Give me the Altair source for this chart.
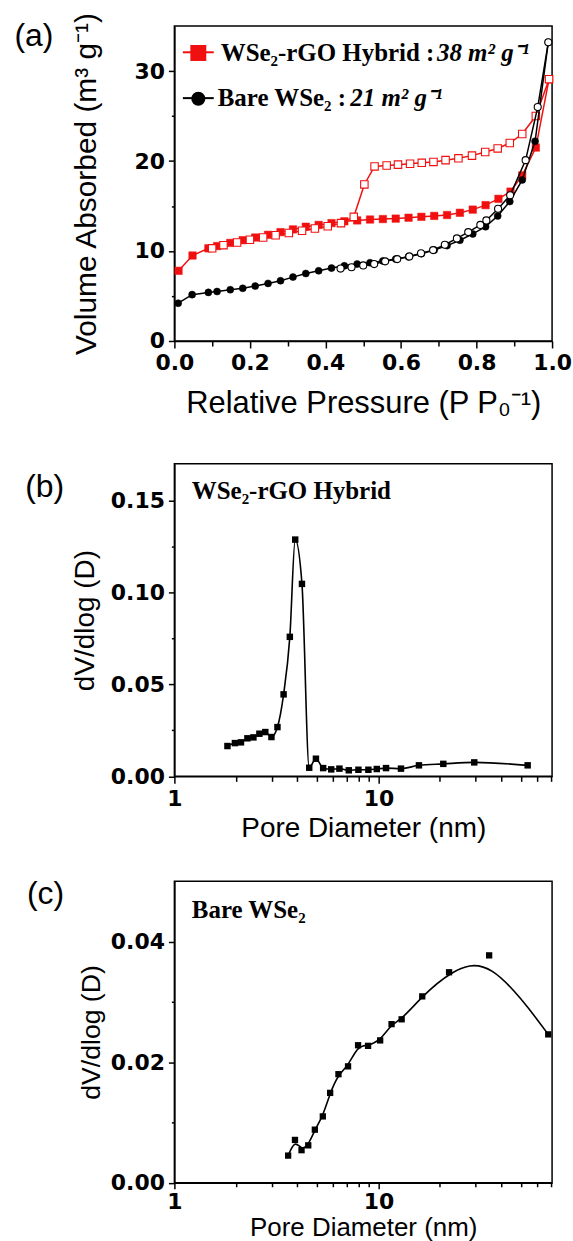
import json
import altair as alt
import pandas as pd

# ---------------- data ----------------
# (a) N2 adsorption / desorption isotherms
rgo_ads_p = [0.011, 0.048, 0.090, 0.113, 0.148, 0.181, 0.214, 0.248, 0.281, 0.314, 0.348, 0.382, 0.416, 0.450,
             0.484, 0.518, 0.552, 0.586, 0.620, 0.654, 0.688, 0.722, 0.756, 0.790, 0.824, 0.858, 0.890, 0.921,
             0.957, 0.992]
rgo_ads_v = [7.8, 9.5, 10.3, 10.55, 10.9, 11.2, 11.5, 11.8, 12.1, 12.4, 12.7, 12.9, 13.1, 13.3,
             13.4, 13.5, 13.55, 13.6, 13.7, 13.8, 13.9, 14.0, 14.25, 14.6, 15.1, 15.8, 16.6, 18.4,
             21.5, 29.1]
rgo_des_p = [0.992, 0.957, 0.921, 0.888, 0.856, 0.823, 0.788, 0.752, 0.718, 0.686, 0.655, 0.624, 0.592, 0.562,
             0.530, 0.503, 0.475, 0.441, 0.406, 0.372, 0.338, 0.303, 0.268, 0.235, 0.200, 0.166, 0.130, 0.100]
rgo_des_v = [29.1, 25.0, 23.0, 22.0, 21.4, 21.0, 20.6, 20.3, 20.1, 19.9, 19.8, 19.7, 19.6, 19.5,
             19.4, 17.4, 13.8, 13.1, 12.75, 12.5, 12.25, 12.0, 11.75, 11.5, 11.25, 10.95, 10.65, 10.3]
bare_ads_p = [0.010, 0.047, 0.090, 0.113, 0.148, 0.181, 0.214, 0.248, 0.281, 0.314, 0.348, 0.382, 0.416, 0.450,
              0.484, 0.518, 0.552, 0.586, 0.620, 0.654, 0.688, 0.722, 0.756, 0.790, 0.824, 0.856, 0.888, 0.921,
              0.955, 0.990]
bare_ads_v = [4.2, 5.15, 5.4, 5.5, 5.7, 5.85, 6.1, 6.4, 6.7, 7.1, 7.5, 7.8, 8.1, 8.35,
              8.55, 8.7, 8.9, 9.1, 9.35, 9.7, 10.1, 10.6, 11.2, 11.9, 12.7, 13.9, 15.5, 17.9,
              22.2, 33.2]
bare_des_p = [0.990, 0.962, 0.930, 0.889, 0.857, 0.826, 0.810, 0.778, 0.748, 0.716, 0.685, 0.653, 0.622, 0.590,
              0.558, 0.529, 0.500, 0.469, 0.440]
bare_des_v = [33.2, 26.0, 20.1, 16.2, 14.7, 13.4, 12.9, 12.1, 11.4, 10.7, 10.1, 9.75, 9.4, 9.1,
              8.85, 8.55, 8.4, 8.2, 8.05]

# (b) pore size distribution, WSe2-rGO hybrid
psd_rgo_d = [1.82, 1.98, 2.12, 2.28, 2.44, 2.61, 2.79, 2.99, 3.20, 3.43, 3.68, 3.91, 4.22, 4.58, 4.94, 5.36,
             5.87, 6.44, 7.16, 7.98, 8.93, 9.82, 10.9, 12.9, 15.8, 20.8, 29.5, 53.9]
psd_rgo_v = [0.0165, 0.0181, 0.0185, 0.0207, 0.0212, 0.0232, 0.0241, 0.0214, 0.0268, 0.0446, 0.0759, 0.1288,
             0.1047, 0.0047, 0.0096, 0.0045, 0.0038, 0.0042, 0.0033, 0.0036, 0.0036, 0.0040, 0.0045, 0.0042,
             0.0060, 0.0068, 0.0076, 0.0060]

# (c) pore size distribution, bare WSe2
psd_bare_d = [3.61, 3.90, 4.20, 4.53, 4.88, 5.34, 5.80, 6.37, 7.10, 7.95, 8.90, 10.2, 11.6, 13.0, 16.4, 22.2,
              34.9, 68.0]
psd_bare_v = [0.0045, 0.0071, 0.0054, 0.0062, 0.0088, 0.0110, 0.0149, 0.0180, 0.0193, 0.0228, 0.0227, 0.0236,
              0.0263, 0.0271, 0.0309, 0.0349, 0.0377, 0.0246]

# tick values
a_x_major = [0, 0.2, 0.4, 0.6, 0.8, 1.0]
a_x_minor = [0.1, 0.3, 0.5, 0.7, 0.9]
a_y_major = [0, 10, 20, 30]
a_y_minor = [5, 15, 25]
b_y_major = [0, 0.05, 0.10, 0.15]
b_y_minor = [0.025, 0.075, 0.125]
c_y_major = [0, 0.02, 0.04]
c_y_minor = [0.01, 0.03]
log_major = [1, 10]
log_minor = [2, 3, 4, 5, 6, 7, 8, 9, 20, 30, 40, 50, 60, 70]

RED = "#f01010"
SANS = "Liberation Sans"
TICKFONT = "DejaVu Sans"
SERIF = "Liberation Serif"
W = 379


def make_axis(major, minor, fmt, tmaj, tmin, lpad, title, tpad, tfs):
    vals = sorted(major + minor)
    minor_test = "indexof(%s, datum.value) >= 0" % json.dumps(minor)
    major_test = "indexof(%s, datum.value) >= 0" % json.dumps(major)
    return alt.Axis(values=vals, format=fmt,
                    labelExpr=f"{major_test} ? datum.label : ''",
                    tickSize={"condition": {"test": minor_test, "value": tmin}, "value": tmaj},
                    labelPadding=lpad, title=title, titlePadding=tpad, titleFontSize=tfs,
                    labelFlush=False, labelOverlap=False, grid=False)


def df(xs, ys):
    return pd.DataFrame({"x": xs, "y": ys, "i": list(range(len(xs)))})


one = pd.DataFrame({"k": [0]})


def label(text, x, y, size=32, font=SANS, weight="normal", style="normal", align="left", baseline="middle"):
    return alt.Chart(one).mark_text(text=text, font=font, fontSize=size, fontWeight=weight, fontStyle=style,
                                    align=align, baseline=baseline, color="black").encode(
        x=alt.value(x), y=alt.value(y))


# ---------------- panel (a) ----------------
xa = alt.X("x:Q", scale=alt.Scale(domain=[0, 1], nice=False),
           axis=make_axis(a_x_major, a_x_minor, ".1f", 7, 5, 5, "Relative Pressure (P P\u2080\u207b\u00b9)", 14.7, 31))
ya = alt.Y("y:Q", scale=alt.Scale(domain=[0, 35], nice=False),
           axis=make_axis(a_y_major, a_y_minor, "d", 6, 3, 4, "Volume Absorbed (m\u00b3 g\u207b\u00b9)", 33, 30))


def iso_layers(xs, ys, color, shape, filled, size):
    d = df(xs, ys)
    line = alt.Chart(d).mark_line(color=color, strokeWidth=1.5).encode(x=xa, y=ya, order="i:Q")
    if filled:
        pts = alt.Chart(d).mark_point(shape=shape, filled=True, fill=color, stroke=color, strokeWidth=0.5,
                                      size=size, opacity=1)
    else:
        pts = alt.Chart(d).mark_point(shape=shape, filled=True, fill="white", stroke=color, strokeWidth=1.1,
                                      size=size, opacity=1)
    return [line, pts.encode(x=xa, y=ya)]


layers_a = []
layers_a += iso_layers(rgo_ads_p, rgo_ads_v, RED, "square", True, 56)
layers_a += iso_layers(rgo_des_p, rgo_des_v, RED, "square", False, 56)
layers_a += iso_layers(bare_ads_p, bare_ads_v, "black", "circle", True, 50)
layers_a += iso_layers(bare_des_p, bare_des_v, "black", "circle", False, 50)

# legend (annotation)
layers_a += [
    alt.Chart(one).mark_rule(color=RED, strokeWidth=2).encode(x=alt.value(8.5), x2=alt.value(39.5), y=alt.value(26.3)),
    alt.Chart(one).mark_point(shape="square", filled=True, color=RED, size=256, opacity=1).encode(
        x=alt.value(24), y=alt.value(27)),
    alt.Chart(one).mark_rule(color="black", strokeWidth=2).encode(x=alt.value(8.5), x2=alt.value(39.5), y=alt.value(72.3)),
    alt.Chart(one).mark_point(shape="circle", filled=True, color="black", size=200, opacity=1).encode(
        x=alt.value(24), y=alt.value(73)),
    label("WSe\u2082-rGO Hybrid :", 46.5, 34.7, size=25, font=SERIF, weight="bold", baseline="alphabetic"),
    label("38 m\u00b2 g\u207b\u00b9", 263.5, 34.7, size=25, font=SERIF, weight="bold", style="italic",
          baseline="alphabetic"),
    label("Bare WSe\u2082 :", 43.5, 79.7, size=25, font=SERIF, weight="bold", baseline="alphabetic"),
    label("21 m\u00b2 g\u207b\u00b9", 176.5, 79.7, size=25, font=SERIF, weight="bold", style="italic",
          baseline="alphabetic"),
    label("(a)", -160.5, 9.7),
]
panel_a = alt.layer(*layers_a).properties(width=W, height=316)

# ---------------- panel (b) ----------------
xb = alt.X("x:Q", scale=alt.Scale(type="log", domain=[1, 71], nice=False),
           axis=make_axis(log_major, log_minor, "d", 7, 5, 5, "Pore Diameter (nm)", 5.6, 28))
yb = alt.Y("y:Q", scale=alt.Scale(domain=[0, 0.17], nice=False),
           axis=make_axis(b_y_major, b_y_minor, ".2f", 6, 3, 4, "dV/dlog (D)", 10.5, 28))
db = df(psd_rgo_d, psd_rgo_v)
panel_b = alt.layer(
    alt.Chart(db).mark_line(color="black", strokeWidth=1.6, interpolate="monotone").encode(x=xb, y=yb, order="i:Q"),
    alt.Chart(db).mark_point(shape="square", filled=True, color="black", size=42, opacity=1).encode(x=xb, y=yb),
    label("WSe\u2082-rGO Hybrid", 17.5, 35, size=25, font=SERIF, weight="bold", baseline="alphabetic"),
    label("(b)", -149.7, 23.3),
).properties(width=W, height=313.6)

# ---------------- panel (c) ----------------
xc = alt.X("x:Q", scale=alt.Scale(type="log", domain=[1, 71], nice=False),
           axis=make_axis(log_major, log_minor, "d", 6, 4, 3, "Pore Diameter (nm)", 2, 26))
yc = alt.Y("y:Q", scale=alt.Scale(domain=[0, 0.05], nice=False),
           axis=make_axis(c_y_major, c_y_minor, ".2f", 6, 3, 4, "dV/dlog (D)", 4.7, 26.7))
dc = df(psd_bare_d, psd_bare_v)
panel_c = alt.layer(
    alt.Chart(dc).mark_line(color="black", strokeWidth=1.6, interpolate="basis").encode(x=xc, y=yc, order="i:Q"),
    alt.Chart(dc).mark_point(shape="square", filled=True, color="black", size=40, opacity=1).encode(x=xc, y=yc),
    label("Bare WSe\u2082", 17.5, 36.6, size=25, font=SERIF, weight="bold", baseline="alphabetic"),
    label("(c)", -147.9, 13.3),
).properties(width=W, height=302.6)

top = alt.vconcat(panel_a, panel_b, spacing=43.3)
chart = alt.vconcat(top, panel_c, spacing=33.1).properties(
    padding={"left": 13, "top": 8, "right": 0, "bottom": 0},
    background="white",
).configure_view(stroke="black", strokeWidth=1.5).configure_axis(
    domainColor="black", domainWidth=1.5, tickColor="black", tickWidth=1.5,
    labelFont=TICKFONT, labelFontWeight="bold", labelFontSize=22, labelColor="black",
    titleFont=SANS, titleFontWeight="normal", titleColor="black",
)

chart.save("out.html", embed_options={"renderer": "svg", "actions": False})
